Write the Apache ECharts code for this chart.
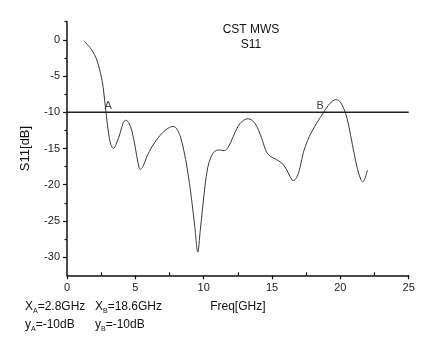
<!DOCTYPE html>
<html>
<head>
<meta charset="utf-8">
<script src="https://cdn.jsdelivr.net/npm/echarts@6/dist/echarts.min.js"></script>
<style>
  html, body { margin: 0; padding: 0; background: #fff; }
  #chart { width: 432px; height: 337px; }
</style>
</head>
<body>
<div id="chart"></div>
<script>
// S11 reflection coefficient versus frequency
const freqGHz = [1.25, 1.7, 2.0, 2.2, 2.45, 2.65, 2.85, 3.05, 3.2, 3.4, 3.6, 3.9, 4.1, 4.3, 4.5, 4.75,
  5.0, 5.2, 5.35, 5.55, 5.85, 6.2, 6.6, 7.0, 7.4, 7.75, 8.0, 8.3, 8.55, 8.8, 9.1, 9.35, 9.57, 9.75,
  9.9, 10.1, 10.3, 10.55, 10.8, 11.1, 11.5, 11.8, 12.15, 12.5, 12.85, 13.25, 13.65, 14.0, 14.3, 14.6,
  14.9, 15.3, 15.7, 16.0, 16.3, 16.55, 16.8, 17.05, 17.3, 17.6, 17.9, 18.3, 18.75, 19.1, 19.4, 19.7,
  20.0, 20.25, 20.5, 20.75, 21.0, 21.25, 21.5, 21.65, 21.8, 21.98];
const s11dB = [-0.2, -1.1, -2.0, -2.9, -4.6, -6.6, -10.0, -13.0, -14.4, -15.0, -14.4, -12.8, -11.5, -11.1, -11.4, -12.6,
  -14.9, -17.0, -17.9, -17.5, -16.1, -14.8, -13.7, -12.8, -12.2, -11.95, -12.2, -13.4, -15.3, -17.8, -21.8, -25.8, -29.3, -26.3,
  -23.6, -20.1, -17.6, -16.1, -15.4, -15.2, -15.3, -14.8, -13.4, -12.0, -11.2, -10.9, -11.3, -12.4, -13.9, -15.5,
  -16.1, -16.5, -17.0, -17.7, -18.8, -19.45, -19.0, -17.6, -15.5, -13.9, -12.7, -11.4, -10.1, -9.1, -8.5, -8.25,
  -8.6, -9.5, -10.9, -13.2, -15.6, -17.8, -19.3, -19.6, -19.1, -18.0];

// -10 dB reference level and its crossing markers
const refLevelDB = -10;
const refLineX = [-2.5, 25];
const markerNames = ['A', 'B'];
const markerFreq = [2.8, 18.6];

// tick values
const yMajorTicks = [-30, -25, -20, -15, -10, -5, 0];
const yMinorTicks = [-27.5, -22.5, -17.5, -12.5, -7.5, -2.5, 2.5];
const xMinorTicks = [2.5, 7.5, 12.5, 17.5, 22.5];

const FONT = "'Liberation Sans', Arial, sans-serif";
const chart = echarts.init(document.getElementById('chart'), null, { renderer: 'canvas' });

const curve = freqGHz.map((f, i) => [f, s11dB[i]]);
const refLine = refLineX.map(x => [x, refLevelDB]);
const markers = markerNames.map((n, i) => ({ name: n, value: [markerFreq[i], refLevelDB] }));

const subRich = {
  m: { fontFamily: FONT, fontSize: 12, fill: '#111' },
  s: { fontFamily: FONT, fontSize: 7, fill: '#111', padding: [8, 0, 0, 0] }
};

chart.setOption({
  backgroundColor: '#ffffff',
  animation: false,
  title: {
    text: 'CST MWS\nS11',
    left: 246,
    top: 17,
    textAlign: 'center',
    textStyle: { fontFamily: FONT, fontSize: 12, fontWeight: 'normal', color: '#111', lineHeight: 15 }
  },
  grid: { left: 67, right: 23.3, top: 21.7, bottom: 61.7 },
  xAxis: [{
    type: 'value', min: 0, max: 25, interval: 5,
    name: 'Freq[GHz]', nameLocation: 'middle', nameGap: 25,
    nameTextStyle: { fontFamily: FONT, fontSize: 12, color: '#111' },
    axisLine: { onZero: false, lineStyle: { color: '#111', width: 1.5 } },
    axisTick: { length: 4, lineStyle: { color: '#111', width: 1.2 } },
    axisLabel: { margin: 7, fontFamily: FONT, fontSize: 11, color: '#222' },
    splitLine: { show: false }
  }, {
    type: 'value', min: 0, max: 25, position: 'bottom',
    axisLine: { show: false, onZero: false },
    axisTick: { inside: true, length: 3, customValues: xMinorTicks, lineStyle: { color: '#111', width: 1.2 } },
    axisLabel: { show: false },
    splitLine: { show: false }
  }],
  yAxis: [{
    type: 'value', min: -32.5, max: 2.5,
    name: 'S11[dB]', nameLocation: 'middle', nameGap: 35,
    nameTextStyle: { fontFamily: FONT, fontSize: 13, color: '#111' },
    axisLine: { onZero: false, lineStyle: { color: '#111', width: 1.5 } },
    axisTick: { length: 4, customValues: yMajorTicks, lineStyle: { color: '#111', width: 1.2 } },
    axisLabel: { margin: 7, customValues: yMajorTicks, fontFamily: FONT, fontSize: 11, color: '#222' },
    splitLine: { show: false }
  }, {
    type: 'value', min: -32.5, max: 2.5, position: 'left',
    axisLine: { show: false, onZero: false },
    axisTick: { length: 2.5, customValues: yMinorTicks, lineStyle: { color: '#111', width: 1.2 } },
    axisLabel: { show: false },
    splitLine: { show: false }
  }],
  series: [{
    type: 'line',
    data: curve,
    smooth: 0.35,
    showSymbol: false,
    lineStyle: { color: '#3a3a3a', width: 1 }
  }, {
    type: 'line',
    data: refLine,
    clip: false,
    showSymbol: false,
    lineStyle: { color: '#222', width: 1.3 }
  }, {
    type: 'scatter',
    data: markers,
    symbolSize: 0,
    label: {
      show: true, position: 'top', distance: 1,
      formatter: p => p.name,
      fontFamily: FONT, fontSize: 11, color: '#111'
    },
    labelLayout: (params) => params.dataIndex === 0 ? { dx: 3 } : { dx: -1 }
  }],
  graphic: [{
    type: 'text', left: 25, top: 301,
    style: { text: '{m|X}{s|A}{m|=2.8GHz}', rich: subRich }
  }, {
    type: 'text', left: 95, top: 301,
    style: { text: '{m|X}{s|B}{m|=18.6GHz}', rich: subRich }
  }, {
    type: 'text', left: 25, top: 319,
    style: { text: '{m|y}{s|A}{m|=-10dB}', rich: subRich }
  }, {
    type: 'text', left: 95, top: 319,
    style: { text: '{m|y}{s|B}{m|=-10dB}', rich: subRich }
  }]
});
</script>
</body>
</html>
